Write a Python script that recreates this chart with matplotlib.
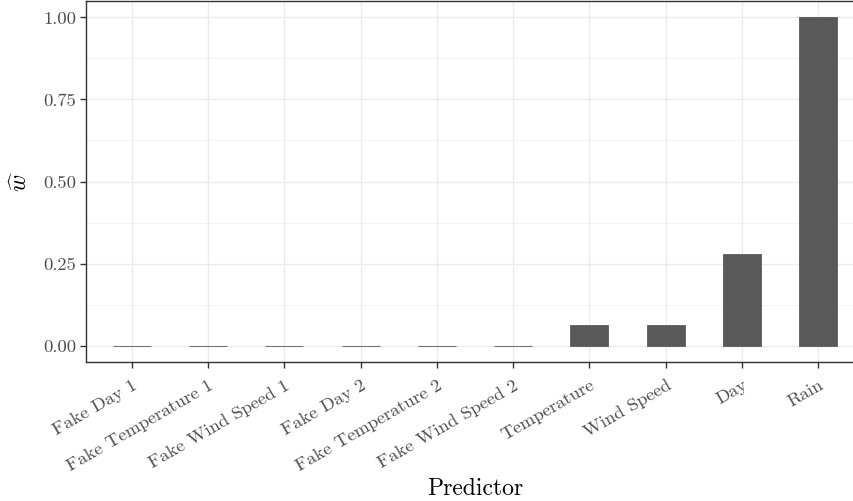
import matplotlib
matplotlib.use("Agg")
import matplotlib.pyplot as plt
from matplotlib.ticker import MultipleLocator, FormatStrFormatter

plt.rcParams["font.family"] = ["cmr10", "DejaVu Serif"]
plt.rcParams["mathtext.fontset"] = "cm"
plt.rcParams["axes.unicode_minus"] = False

predictors = ["Fake Day 1", "Fake Temperature 1", "Fake Wind Speed 1", "Fake Day 2",
              "Fake Temperature 2", "Fake Wind Speed 2", "Temperature", "Wind Speed",
              "Day", "Rain"]
weights = [0.0, 0.0, 0.0, 0.0, 0.0, 0.0, 0.064, 0.064, 0.28, 1.0]

W, H = 854, 501
fig = plt.figure(figsize=(W / 100, H / 100), dpi=100)
# panel runs slightly past the right edge of the canvas
left, right, top, bottom = 86, 864, 1, 362
ax = fig.add_axes([left / W, (H - bottom) / H, (right - left) / W, (bottom - top) / H])

x = list(range(len(predictors)))
ax.bar(x, weights, width=0.5, color="#595959", edgecolor="#595959", linewidth=0.6, zorder=3)

ax.set_xlim(-0.6, len(predictors) - 1 + 0.6)
ax.set_ylim(-0.05, 1.05)
ax.yaxis.set_major_locator(MultipleLocator(0.25))
ax.yaxis.set_minor_locator(MultipleLocator(0.125))
ax.yaxis.set_major_formatter(FormatStrFormatter("%.2f"))
ax.set_xticks(x)
ax.set_xticklabels(predictors, rotation=30, ha="right", rotation_mode="anchor")

ax.grid(True, which="major", color="#EBEBEB", linewidth=1.0, zorder=0)
ax.grid(True, which="minor", axis="y", color="#F2F2F2", linewidth=0.6, zorder=0)
ax.set_axisbelow(True)

for s in ax.spines.values():
    s.set_color("#333333")
    s.set_linewidth(1.0)

ax.tick_params(axis="both", which="major", colors="#333333", length=4, width=1.0,
               labelcolor="#4D4D4D", labelsize=13.4, pad=3)
ax.tick_params(axis="x", pad=7)
ax.tick_params(axis="y", which="minor", length=0)

fig.text((left + right) / 2 / W, 1 - 495 / H, "Predictor", fontsize=17,
         ha="center", va="baseline")
ax.set_ylabel(r"$\widehat{w}$", fontsize=17, labelpad=8)

fig.savefig("out.png", dpi=100)
